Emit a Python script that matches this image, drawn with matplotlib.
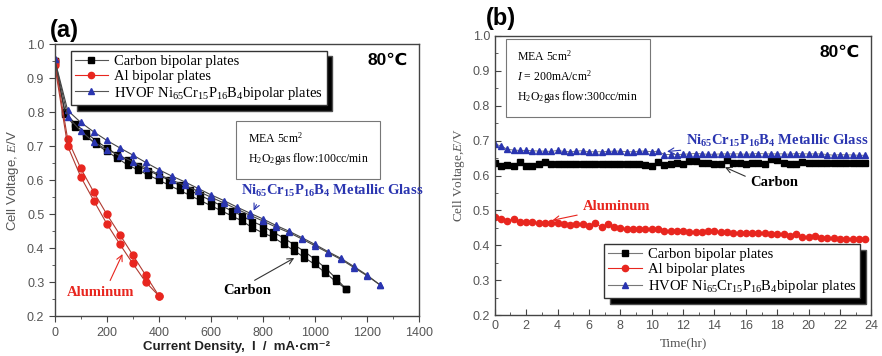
import numpy as np, matplotlib
matplotlib.use('Agg')
import matplotlib.pyplot as plt
from matplotlib.ticker import MultipleLocator

plt.rcParams['mathtext.fontset'] = 'custom'
plt.rcParams['mathtext.rm'] = 'Liberation Serif'
plt.rcParams['mathtext.it'] = 'Liberation Serif:italic'
plt.rcParams['mathtext.bf'] = 'Liberation Serif:bold'

SANS = ['Liberation Sans', 'DejaVu Sans']
SERIF = ['Liberation Serif', 'DejaVu Serif']
RED, BLUE, GRAY = '#e8261f', '#2a35b0', '#555555'

# ---- (a) polarization curves: two sweeps per plate ----
carbon_i = [0, 40, 80, 120, 160, 200, 240, 280, 320, 360, 400, 440, 480, 520, 560,
            600, 640, 680, 720, 760, 800, 840, 880, 920, 960, 1000, 1040, 1080, 1120]
carbon_up = [0.95, 0.80, 0.765, 0.74, 0.715, 0.695, 0.675, 0.658, 0.642, 0.628, 0.614,
             0.60, 0.585, 0.57, 0.555, 0.54, 0.525, 0.51, 0.495, 0.478, 0.465, 0.447,
             0.43, 0.41, 0.39, 0.367, 0.342, 0.312, 0.28]
carbon_dn = [0.95, 0.795, 0.755, 0.73, 0.705, 0.685, 0.665, 0.645, 0.63, 0.615, 0.60,
             0.585, 0.57, 0.555, 0.54, 0.525, 0.51, 0.495, 0.48, 0.46, 0.445, 0.432,
             0.412, 0.393, 0.372, 0.352, 0.328, 0.302, 0.28]

al_i = [0, 50, 100, 150, 200, 250, 300, 350, 400]
al_up = [0.95, 0.72, 0.635, 0.565, 0.50, 0.44, 0.38, 0.32, 0.26]
al_dn = [0.94, 0.70, 0.61, 0.54, 0.472, 0.412, 0.355, 0.30, 0.26]

mg_i = [0, 50, 100, 150, 200, 250, 300, 350, 400, 450, 500, 550, 600, 650, 700, 750,
        800, 850, 900, 950, 1000, 1050, 1100, 1150, 1200, 1250]
mg_up = [0.955, 0.805, 0.77, 0.742, 0.717, 0.695, 0.674, 0.652, 0.631, 0.612, 0.595,
         0.576, 0.557, 0.54, 0.521, 0.503, 0.486, 0.467, 0.45, 0.431, 0.411, 0.39,
         0.37, 0.346, 0.321, 0.292]
mg_dn = [0.955, 0.787, 0.745, 0.712, 0.69, 0.672, 0.654, 0.636, 0.617, 0.60, 0.585,
         0.568, 0.55, 0.533, 0.515, 0.497, 0.48, 0.462, 0.446, 0.427, 0.407, 0.387,
         0.367, 0.343, 0.319, 0.292]

# ---- (b) durability at 200 mA/cm2 ----
hours = np.round(np.arange(60) * 0.4, 1)
mg_t = [0.69, 0.685, 0.675, 0.673, 0.672, 0.672, 0.671, 0.670, 0.670, 0.669, 0.672, 0.669,
        0.668, 0.670, 0.671, 0.668, 0.668, 0.668, 0.669, 0.670, 0.670, 0.668, 0.668, 0.670,
        0.670, 0.668, 0.670, 0.660, 0.660, 0.660, 0.661, 0.662, 0.663, 0.662, 0.661, 0.661,
        0.662, 0.662, 0.662, 0.662, 0.661, 0.662, 0.663, 0.662, 0.662, 0.662, 0.662, 0.661,
        0.663, 0.662, 0.662, 0.662, 0.662, 0.660, 0.658, 0.660, 0.659, 0.659, 0.658, 0.658]
carbon_t = [0.635, 0.628, 0.630, 0.628, 0.640, 0.627, 0.628, 0.632, 0.640, 0.632, 0.632, 0.632,
            0.632, 0.632, 0.632, 0.633, 0.634, 0.634, 0.634, 0.634, 0.634, 0.634, 0.634, 0.633,
            0.630, 0.628, 0.640, 0.630, 0.632, 0.635, 0.634, 0.643, 0.642, 0.635, 0.635, 0.634,
            0.634, 0.645, 0.636, 0.636, 0.634, 0.636, 0.635, 0.634, 0.646, 0.644, 0.636, 0.634,
            0.632, 0.640, 0.637, 0.637, 0.636, 0.636, 0.636, 0.636, 0.636, 0.636, 0.636, 0.636]
al_t = [0.480, 0.474, 0.470, 0.476, 0.468, 0.468, 0.466, 0.463, 0.465, 0.465, 0.463, 0.460,
        0.459, 0.460, 0.462, 0.455, 0.463, 0.452, 0.461, 0.453, 0.449, 0.448, 0.446, 0.446,
        0.446, 0.446, 0.447, 0.442, 0.441, 0.440, 0.440, 0.439, 0.438, 0.439, 0.440, 0.440,
        0.438, 0.437, 0.436, 0.436, 0.435, 0.435, 0.435, 0.434, 0.433, 0.432, 0.431, 0.428,
        0.433, 0.425, 0.424, 0.428, 0.421, 0.421, 0.420, 0.419, 0.419, 0.419, 0.418, 0.418]

labels = ['Carbon bipolar plates', 'Al bipolar plates',
          'HVOF Ni$_{65}$Cr$_{15}$P$_{16}$B$_{4}$bipolar plates']
mg_anno = r'Ni$_{\mathbf{65}}$Cr$_{\mathbf{15}}$P$_{\mathbf{16}}$B$_{\mathbf{4}}$ Metallic Glass'

fig = plt.figure(figsize=(8.82, 3.56), dpi=100)
ax1 = fig.add_axes([0.062, 0.112, 0.413, 0.764])
ax2 = fig.add_axes([0.561, 0.115, 0.427, 0.784])

shadow = {'facecolor': 'black', 'alpha': 1, 'ox': 4, 'oy': -4}
leg_kw = dict(prop={'family': SERIF, 'size': 10.5}, frameon=True, fancybox=False,
              edgecolor='#333333', framealpha=1, shadow=shadow, handlelength=2.3,
              borderpad=0.25, labelspacing=0.12, handletextpad=0.4, borderaxespad=0)


def style(ax, direction):
    for s in ax.spines.values():
        s.set_color('#444444')
        s.set_linewidth(1.0)
    ax.tick_params(which='both', direction=direction, colors='#444444', labelcolor=GRAY,
                   labelsize=9, top=False, right=False)
    ax.tick_params(which='major', length=4)
    ax.tick_params(which='minor', length=2)
    for t in ax.get_xticklabels() + ax.get_yticklabels():
        t.set_family(SANS)


# panel (a)
kw = dict(lw=0.8, ms=5)
for yv in (carbon_up, carbon_dn):
    ax1.plot(carbon_i, yv, color='#333333', marker='s', mfc='black', mec='black', **kw)
for yv in (al_up, al_dn):
    ax1.plot(al_i, yv, color='#b03a30', marker='o', mfc=RED, mec=RED, **kw)
for yv in (mg_up, mg_dn):
    ax1.plot(mg_i, yv, color='#444444', marker='^', mfc=BLUE, mec=BLUE, **kw)
ax1.set_xlim(0, 1400)
ax1.set_ylim(0.2, 1.0)
ax1.xaxis.set_major_locator(MultipleLocator(200))
ax1.xaxis.set_minor_locator(MultipleLocator(100))
ax1.set_yticks(np.arange(0.2, 1.01, 0.1))
ax1.set_yticklabels([f'{v:.1f}' for v in np.arange(0.2, 1.01, 0.1)])
ax1.yaxis.set_minor_locator(MultipleLocator(0.05))
style(ax1, 'out')
ax1.set_xlabel('Current Density,  I  /  mA·cm⁻²', family=SANS, fontweight='bold',
               fontsize=9.5, color='#222222', labelpad=2)
ax1.set_ylabel('Cell Voltage, $\\it{E}$/V', family=SANS, fontsize=9.5, color=GRAY, labelpad=4)
h = [ax1.plot([], [], color=c, marker=m, mfc=f, mec=f, lw=0.8, ms=4.5)[0]
     for c, m, f in (('#555555', 's', 'black'), (RED, 'o', RED), ('#555555', '^', BLUE))]
ax1.legend(h, labels, loc='upper left', bbox_to_anchor=(0.045, 0.975), **leg_kw)
ax1.text(0.97, 0.94, '80℃', transform=ax1.transAxes, ha='right', va='center',
         family=SANS, fontweight='bold', fontsize=12.5)
ax1.text(0.53, 0.68, 'MEA 5cm$^2$\nH$_2$O$_2$gas flow:100cc/min', transform=ax1.transAxes,
         va='top', family=SERIF, fontsize=8.5, linespacing=1.5,
         bbox=dict(boxstyle='square,pad=1.0', fc='white', ec='#777777', lw=0.8))
ax1.annotate(mg_anno, xy=(760, 0.503), xytext=(715, 0.567), color=BLUE, family=SERIF,
             fontweight='bold', fontsize=10.5, va='center',
             arrowprops=dict(arrowstyle='->', color=BLUE, lw=0.8, relpos=(0.1, 0.0)))
ax1.annotate('Carbon', xy=(930, 0.375), xytext=(740, 0.274), color='black', family=SERIF,
             fontweight='bold', fontsize=10.5, ha='center', va='center',
             arrowprops=dict(arrowstyle='->', color='#333333', lw=0.8,
                             relpos=(0.5, 1.0)))
ax1.annotate('Aluminum', xy=(265, 0.39), xytext=(48, 0.27), color=RED, family=SERIF,
             fontweight='bold', fontsize=10.5, va='center',
             arrowprops=dict(arrowstyle='->', color=RED, lw=0.8, relpos=(0.6, 1.0)))
fig.text(0.056, 0.895, '(a)', family=SANS, fontweight='bold', fontsize=17)

# panel (b)
ax2.plot(hours, carbon_t, color='#666666', marker='s', mfc='black', mec='black', lw=0.6, ms=4)
ax2.plot(hours, al_t, color=RED, marker='o', mfc=RED, mec=RED, lw=0.6, ms=4.5)
ax2.plot(hours, mg_t, color='#666666', marker='^', mfc=BLUE, mec=BLUE, lw=0.6, ms=4.5)
ax2.set_xlim(0, 24)
ax2.set_ylim(0.2, 1.0)
ax2.xaxis.set_major_locator(MultipleLocator(2))
ax2.xaxis.set_minor_locator(MultipleLocator(1))
ax2.set_yticks(np.arange(0.2, 1.01, 0.1))
ax2.set_yticklabels([f'{v:.1f}' for v in np.arange(0.2, 1.01, 0.1)])
ax2.yaxis.set_minor_locator(MultipleLocator(0.05))
style(ax2, 'in')
ax2.set_xlabel('Time(hr)', family=SERIF, fontsize=9.5, color=GRAY, labelpad=4)
ax2.set_ylabel('Cell Voltage,$E$/V', family=SERIF, fontsize=9.5, color=GRAY, labelpad=4)
h2 = [ax2.plot([], [], color=c, marker=m, mfc=f, mec=f, lw=0.8, ms=4.5)[0]
      for c, m, f in (('#777777', 's', 'black'), (RED, 'o', RED), ('#777777', '^', BLUE))]
ax2.legend(h2, labels, loc='lower right', bbox_to_anchor=(0.97, 0.06), **leg_kw)
ax2.text(0.97, 0.94, '80℃', transform=ax2.transAxes, ha='right', va='center',
         family=SANS, fontweight='bold', fontsize=12.5)
ax2.text(0.06, 0.955, 'MEA 5cm$^2$\n$I$ = 200mA/cm$^2$\nH$_2$O$_2$gas flow:300cc/min',
         transform=ax2.transAxes, va='top', family=SERIF, fontsize=8.5, linespacing=1.5,
         bbox=dict(boxstyle='square,pad=1.0', fc='white', ec='#777777', lw=0.8))
ax2.annotate(mg_anno, xy=(10.8, 0.668), xytext=(12.2, 0.698), color=BLUE, family=SERIF,
             fontweight='bold', fontsize=10.5, va='center',
             arrowprops=dict(arrowstyle='->', color=BLUE, lw=0.8))
ax2.annotate('Carbon', xy=(14.5, 0.627), xytext=(16.3, 0.58), color='black', family=SERIF,
             fontweight='bold', fontsize=10.5, va='center',
             arrowprops=dict(arrowstyle='->', color='#333333', lw=0.8, relpos=(0.0, 0.8)))
ax2.annotate('Aluminum', xy=(3.5, 0.47), xytext=(5.6, 0.51), color=RED, family=SERIF,
             fontweight='bold', fontsize=10.5, va='center',
             arrowprops=dict(arrowstyle='->', color=RED, lw=0.8))
fig.text(0.551, 0.93, '(b)', family=SANS, fontweight='bold', fontsize=17)

fig.savefig('out.png', dpi=100)
